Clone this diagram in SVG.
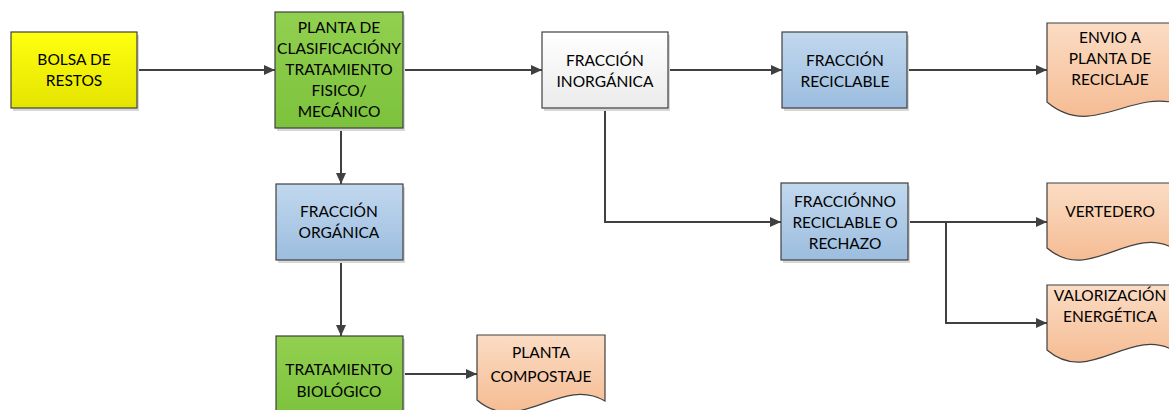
<svg xmlns="http://www.w3.org/2000/svg" width="1169" height="410" viewBox="0 0 1169 410">
<defs>
<linearGradient id="gY" x1="0" y1="0" x2="0" y2="1"><stop offset="0" stop-color="#ffff10"/><stop offset="1" stop-color="#e4e400"/></linearGradient>
<linearGradient id="gG" x1="0" y1="0" x2="0" y2="1"><stop offset="0" stop-color="#92d050"/><stop offset="1" stop-color="#7cc23c"/></linearGradient>
<linearGradient id="gB" x1="0" y1="0" x2="0" y2="1"><stop offset="0" stop-color="#c2d8ee"/><stop offset="1" stop-color="#9cbddf"/></linearGradient>
<linearGradient id="gW" x1="0" y1="0" x2="0" y2="1"><stop offset="0" stop-color="#ffffff"/><stop offset="1" stop-color="#ebebeb"/></linearGradient>
<linearGradient id="gP" x1="0" y1="0" x2="0" y2="1"><stop offset="0" stop-color="#fbdcc4"/><stop offset="1" stop-color="#f5bc93"/></linearGradient>
<marker id="ah" markerWidth="12" markerHeight="12" refX="11" refY="6" orient="auto" markerUnits="userSpaceOnUse"><path d="M0,1 L11,6 L0,11 Z" fill="#404040"/></marker>
<path id="doc" d="M0,0 H128 V66 C83,40 43,102 0,65 Z"/>
</defs>
<style>
.box{stroke:#404040;stroke-width:1.2}
.sh{fill:#d8d8d8}
.t{font-family:Lato,"Open Sans",sans-serif;font-size:15.5px;fill:#000;text-anchor:middle}
.c{fill:none;stroke:#404040;stroke-width:2;marker-end:url(#ah)}
</style>
<g id="connectors">
<path class="c" d="M137,70 H275"/>
<path class="c" d="M403,70 H542"/>
<path class="c" d="M668,70 H782"/>
<path class="c" d="M907,70 H1047"/>
<path class="c" d="M341,128 V184"/>
<path class="c" d="M341,260 V336"/>
<path class="c" d="M403,374 H477"/>
<path class="c" d="M605,108 V222 H781"/>
<path class="c" d="M908,222 H1047"/>
<path class="c" d="M946,222 V323 H1047"/>
</g>
<g id="bolsa">
<rect class="sh" x="13" y="35" width="126" height="76"/>
<rect class="box" x="11" y="32" width="126" height="76" fill="url(#gY)"/>
<text class="t" x="74" y="65">BOLSA DE</text>
<text class="t" x="74" y="86">RESTOS</text>
</g>
<g id="planta">
<rect class="sh" x="277" y="15" width="128" height="116"/>
<rect class="box" x="275" y="12" width="128" height="116" fill="url(#gG)"/>
<text class="t" x="339" y="33">PLANTA DE</text>
<text class="t" x="339" y="54">CLASIFICACIÓNY</text>
<text class="t" x="339" y="75">TRATAMIENTO</text>
<text class="t" x="339" y="96">FISICO/</text>
<text class="t" x="339" y="117">MECÁNICO</text>
</g>
<g id="inorganica">
<rect class="sh" x="544" y="35" width="126" height="76"/>
<rect class="box" x="542" y="32" width="126" height="76" fill="url(#gW)"/>
<text class="t" x="605" y="66">FRACCIÓN</text>
<text class="t" x="605" y="87">INORGÁNICA</text>
</g>
<g id="reciclable">
<rect class="sh" x="784" y="35" width="125" height="76"/>
<rect class="box" x="782" y="32" width="125" height="76" fill="url(#gB)"/>
<text class="t" x="845" y="66">FRACCIÓN</text>
<text class="t" x="845" y="87">RECICLABLE</text>
</g>
<g id="envio">
<path class="box" d="M1047,23 H1175 V103 C1130,91 1090,139 1047,102 Z" fill="url(#gP)"/>
<text class="t" x="1110" y="43">ENVIO A</text>
<text class="t" x="1110" y="64">PLANTA DE</text>
<text class="t" x="1110" y="85">RECICLAJE</text>
</g>
<g id="organica">
<rect class="sh" x="278" y="187" width="127" height="76"/>
<rect class="box" x="276" y="184" width="127" height="76" fill="url(#gB)"/>
<text class="t" x="339" y="217">FRACCIÓN</text>
<text class="t" x="339" y="238">ORGÁNICA</text>
</g>
<g id="biologico">
<rect class="sh" x="278" y="339" width="127" height="76"/>
<rect class="box" x="276" y="336" width="127" height="80" fill="url(#gG)"/>
<text class="t" x="339" y="375">TRATAMIENTO</text>
<text class="t" x="339" y="397">BIOLÓGICO</text>
</g>
<g id="compostaje">
<use href="#doc" x="477" y="335" class="box" fill="url(#gP)"/>
<text class="t" x="541" y="358">PLANTA</text>
<text class="t" x="541" y="382">COMPOSTAJE</text>
</g>
<g id="norecic">
<rect class="sh" x="783" y="186" width="127" height="77"/>
<rect class="box" x="781" y="183" width="127" height="77" fill="url(#gB)"/>
<text class="t" x="845" y="207">FRACCIÓNNO</text>
<text class="t" x="845" y="228">RECICLABLE O</text>
<text class="t" x="845" y="249">RECHAZO</text>
</g>
<g id="vertedero">
<use href="#doc" x="1047" y="183" class="box" fill="url(#gP)"/>
<text class="t" x="1110" y="217">VERTEDERO</text>
</g>
<g id="valorizacion">
<use href="#doc" x="1047" y="285" class="box" fill="url(#gP)"/>
<text class="t" x="1110" y="301">VALORIZACIÓN</text>
<text class="t" x="1110" y="322">ENERGÉTICA</text>
</g>
</svg>
